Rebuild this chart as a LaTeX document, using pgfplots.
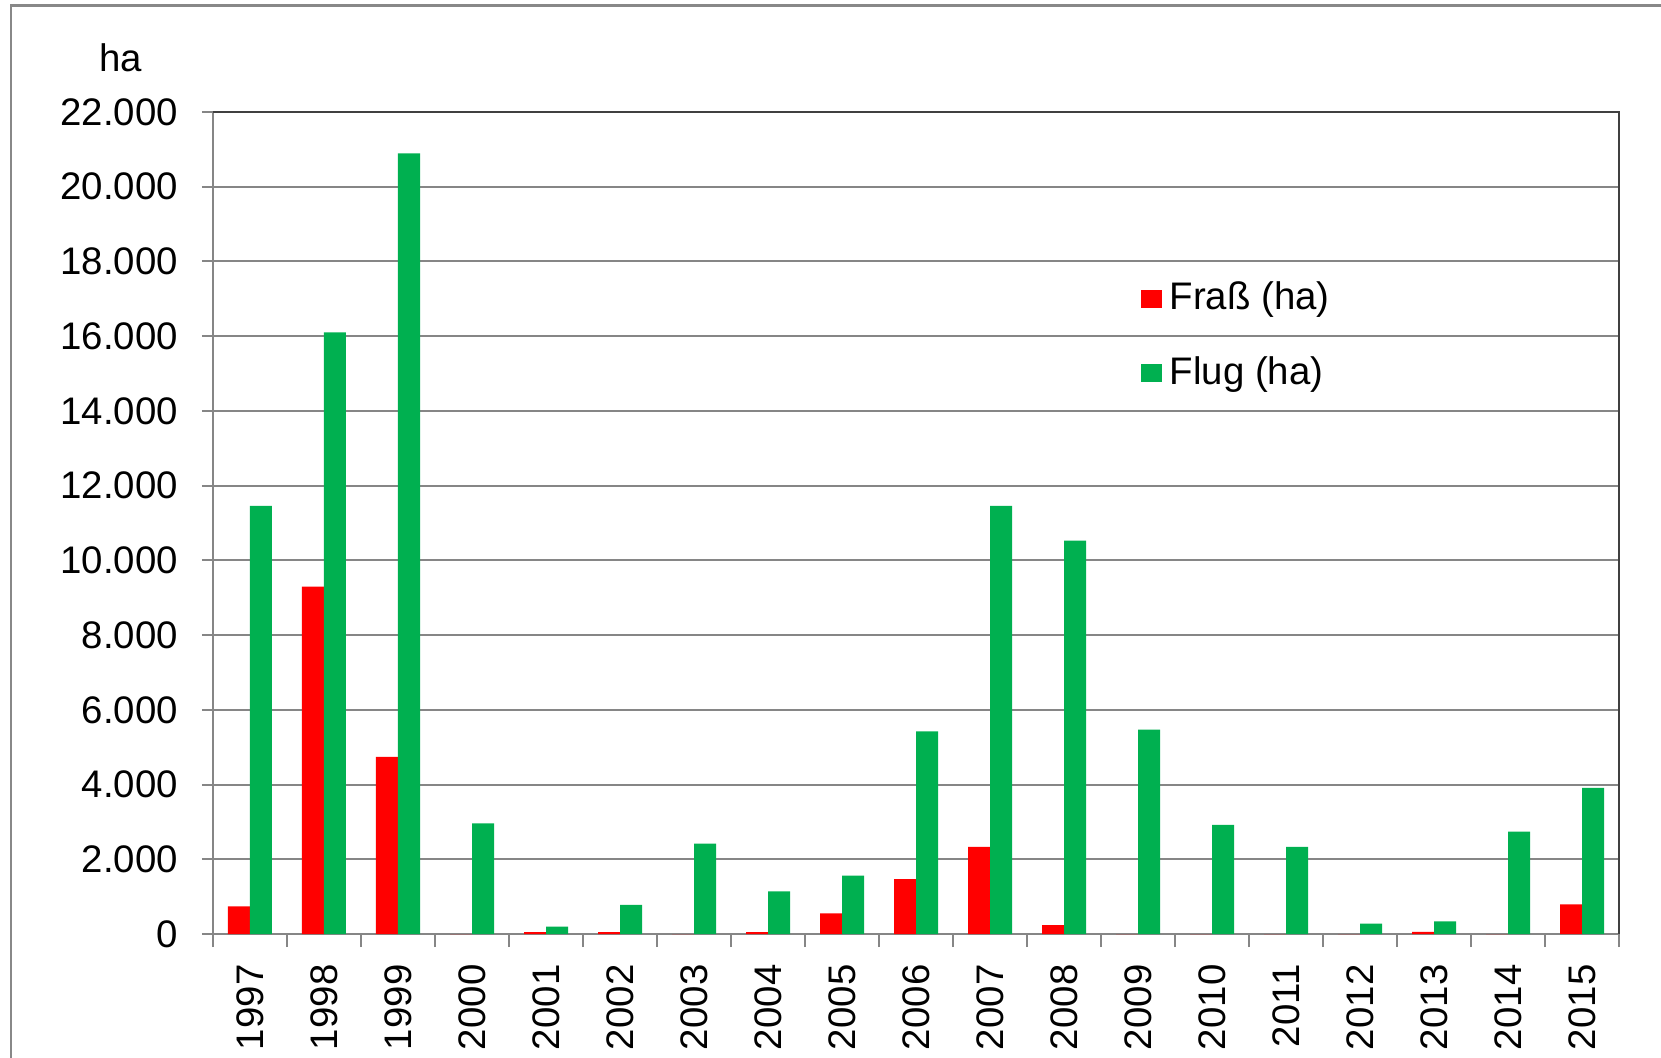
\documentclass[border=0pt]{standalone}
\usepackage{pgfplots}
\pgfplotsset{compat=1.18}
\usepackage{fontspec}
\setmainfont{Liberation Sans}
\definecolor{fred}{RGB}{255,0,0}
\definecolor{fgreen}{RGB}{0,176,80}
\definecolor{gridgray}{RGB}{134,134,134}
\definecolor{framegray}{RGB}{136,136,136}
\definecolor{boxdark}{RGB}{64,64,64}
\begin{document}
\fontsize{9.6}{11.5}\selectfont
\begin{tikzpicture}
\useasboundingbox (0,0) rectangle (415.25pt,-264.5pt);
\draw[framegray, line width=0.7pt] (2.75pt,-270pt) -- (2.75pt,-1.3pt) -- (420pt,-1.3pt);
\node[anchor=base] at (30.25pt,-18pt) {ha};
\begin{axis}[
  at={(53.25pt,-233.5pt)}, anchor=south west,
  scale only axis, width=351.5pt, height=205.5pt,
  xmin=-0.5, xmax=18.5, ymin=0, ymax=22000,
  ybar=0pt, bar width=5.5pt,
  xtick={0,...,18},
  xticklabels={1997,1998,1999,2000,2001,2002,2003,2004,2005,2006,2007,2008,2009,2010,2011,2012,2013,2014,2015},
  minor xtick={-0.5,0.5,...,18.5},
  ytick={0,2000,...,22000},
  scaled y ticks=false,
  tick pos=left, tick align=outside,
  major tick length=2.75pt, minor tick length=3.3pt,
  major x tick style={draw=none},
  minor x tick style={gridgray, line width=0.5pt},
  major y tick style={gridgray, line width=0.5pt},
  axis line style={gridgray, line width=0.5pt},
  ymajorgrids, major grid style={gridgray, line width=0.5pt},
  /pgf/number format/.cd, fixed, precision=0, 1000 sep={.}, assume math mode=true,
  /pgfplots/.cd,
  ticklabel style={font=\fontsize{9.6}{11.5}\selectfont, text=black},
  xticklabel style={rotate=90, anchor=east, xshift=-1.5pt},
  yticklabel style={anchor=east, xshift=-2.6pt},
  legend style={at={(0.6594,0.804)}, anchor=north west, draw=none, fill=none,
    inner sep=0pt, row sep=6.2pt, font=\fontsize{9.6}{11.5}\selectfont,
    legend cell align=left},
  legend image code/.code={\fill[#1] (0pt,-2.3pt) rectangle (5.2pt,2.3pt);},
  after end axis/.code={\draw[boxdark, line width=0.5pt] (rel axis cs:0,1) -- (rel axis cs:1,1) -- (rel axis cs:1,0);},
]
\addplot[fill=fred, draw=none] coordinates {
(0,740) (1,9300) (2,4740) (3,0) (4,50) (5,50) (6,0) (7,50) (8,550) (9,1470)
(10,2330) (11,240) (12,0) (13,0) (14,0) (15,0) (16,60) (17,0) (18,790)};
\addlegendentry{Fraß (ha)}
\addplot[fill=fgreen, draw=none] coordinates {
(0,11460) (1,16100) (2,20890) (3,2960) (4,200) (5,780) (6,2420) (7,1140) (8,1560) (9,5420)
(10,11460) (11,10530) (12,5470) (13,2920) (14,2330) (15,280) (16,340) (17,2740) (18,3910)};
\addlegendentry{Flug (ha)}
\end{axis}
\end{tikzpicture}
\end{document}
